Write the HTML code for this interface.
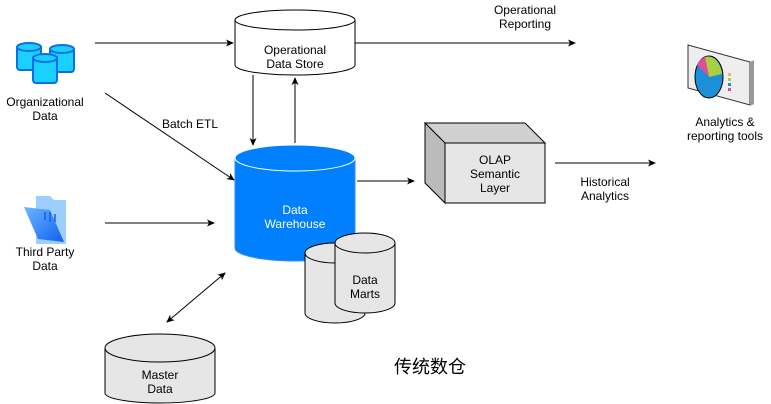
<!DOCTYPE html>
<html><head><style>body{margin:0;background:#fff}svg{display:block;font-family:"Liberation Sans","Noto Sans CJK SC",sans-serif}</style></head><body>
<svg width="771" height="404" viewBox="0 0 771 404" xmlns="http://www.w3.org/2000/svg">
<defs>
<marker id="a" markerWidth="8" markerHeight="8" refX="7" refY="4" orient="auto" markerUnits="userSpaceOnUse"><path d="M0,0.5 L8,4 L0,7.5 L2,4 Z" fill="#000"/></marker>
<marker id="s" markerWidth="8" markerHeight="8" refX="1" refY="4" orient="auto" markerUnits="userSpaceOnUse"><path d="M8,0.5 L0,4 L8,7.5 L6,4 Z" fill="#000"/></marker>
<linearGradient id="fg" x1="0" y1="0" x2="1" y2="1"><stop offset="0" stop-color="#6ab8ff"/><stop offset="1" stop-color="#1060f0"/></linearGradient>
</defs>
<g fill="none" stroke="#000" stroke-width="1">
<line x1="95" y1="43" x2="233" y2="43" marker-end="url(#a)"/>
<line x1="355" y1="43" x2="575" y2="43" marker-end="url(#a)"/>
<line x1="253" y1="75" x2="253" y2="145" marker-end="url(#a)"/>
<line x1="295" y1="143" x2="295" y2="78" marker-end="url(#a)"/>
<line x1="105" y1="93" x2="234" y2="180" marker-end="url(#a)"/>
<line x1="105" y1="223" x2="214" y2="223" marker-end="url(#a)"/>
<line x1="357" y1="181" x2="414" y2="181" marker-end="url(#a)"/>
<line x1="555" y1="163" x2="655" y2="163" marker-end="url(#a)"/>
<line x1="167" y1="322" x2="225" y2="273" marker-end="url(#a)" marker-start="url(#s)"/>
</g>
<!-- ODS -->
<path d="M235,20 v45 a60,10 0 0 0 120,0 v-45" fill="#fff" stroke="#000"/>
<ellipse cx="295" cy="20" rx="60" ry="10" fill="#fff" stroke="#000"/>
<!-- DW -->
<path d="M235,158 v90 a60,13 0 0 0 120,0 v-90" fill="#007fff" stroke="#3a8fe0"/>
<ellipse cx="295" cy="158" rx="60" ry="13" fill="#007fff" stroke="#fff"/>
<!-- Data marts -->
<path d="M305,253 v60 a30,10 0 0 0 60,0 v-60" fill="#e6e6e6" stroke="#000"/>
<ellipse cx="335" cy="253" rx="30" ry="10" fill="#e6e6e6" stroke="#000"/>
<path d="M335,243 v60 a30,10 0 0 0 60,0 v-60" fill="#e6e6e6" stroke="#000"/>
<ellipse cx="365" cy="243" rx="30" ry="10" fill="#e6e6e6" stroke="#000"/>
<!-- Master -->
<path d="M105,348 v45 a55,10 0 0 0 110,0 v-45" fill="#e6e6e6" stroke="#000"/>
<ellipse cx="160" cy="348" rx="55" ry="14" fill="#e6e6e6" stroke="#000"/>
<!-- OLAP -->
<path d="M425,123 h100 l20,20 h-100 z" fill="#d0d0d0" stroke="#000"/>
<path d="M425,123 l20,20 v60 l-20,-20 z" fill="#bbb" stroke="#000"/>
<rect x="445" y="143" width="100" height="60" fill="#e6e6e6" stroke="#000"/>
<!-- org data icon -->
<g fill="#1ad0ff" stroke="#0a6ee8" stroke-width="2">
<rect x="17" y="46" width="24" height="24" rx="3"/><ellipse cx="29" cy="47" rx="12" ry="4"/>
<rect x="50" y="48" width="24" height="24" rx="3"/><ellipse cx="62" cy="49" rx="12" ry="4"/>
<rect x="33" y="57" width="24" height="26" rx="3"/><ellipse cx="45" cy="58" rx="12" ry="4"/>
</g>
<!-- folder icon -->
<path d="M36,196 h14 l4,4 h12 v44 h-30 z" fill="#9ccfff"/>
<path d="M24,207 l26,3 l14,32 l-26,-3 z" fill="url(#fg)"/>
<g stroke="#1060f0" stroke-width="1.5"><line x1="45" y1="212" x2="45" y2="220"/><line x1="50" y1="212" x2="50" y2="222"/><line x1="55" y1="214" x2="55" y2="222"/></g>
<!-- analytics icon -->
<path d="M688,45 l62,17 v43 l-62,-17 z" fill="#eee" stroke="#333"/>
<path d="M750,62 l4,-2 v44 l-4,2 z" fill="#999"/>
<ellipse cx="709" cy="77" rx="14" ry="21" fill="#1a90d8" stroke="#000"/>
<path d="M709,77 l-4,-20 a14,21 0 0 1 17,17 z" fill="#a8d040"/>
<path d="M709,77 l-12,-12 a14,21 0 0 1 8,-8 z" fill="#e04c9c"/>
<rect x="728" y="73" width="3" height="3" fill="#f4b05a"/><rect x="728" y="78" width="3" height="3" fill="#a8d040"/><rect x="728" y="83" width="3" height="3" fill="#1a90d8"/><rect x="728" y="88" width="3" height="3" fill="#e04c9c"/>
<g font-size="12" fill="#000" text-anchor="middle">
<text x="295" y="54">Operational</text><text x="295" y="68">Data Store</text>
<text x="525" y="14">Operational</text><text x="525" y="28">Reporting</text>
<text x="45" y="106">Organizational</text><text x="45" y="120">Data</text>
<text x="190" y="128">Batch ETL</text>
<text x="295" y="214" fill="#fff">Data</text><text x="295" y="228" fill="#fff">Warehouse</text>
<text x="365" y="284">Data</text><text x="365" y="298">Marts</text>
<text x="495" y="164">OLAP</text><text x="495" y="178">Semantic</text><text x="495" y="192">Layer</text>
<text x="605" y="186">Historical</text><text x="605" y="200">Analytics</text>
<text x="725" y="126">Analytics &amp;</text><text x="725" y="140">reporting tools</text>
<text x="45" y="256">Third Party</text><text x="45" y="270">Data</text>
<text x="160" y="379">Master</text><text x="160" y="393">Data</text>
<text x="430" y="373" font-size="18">传统数仓</text>
</g>
</svg>
</body></html>
